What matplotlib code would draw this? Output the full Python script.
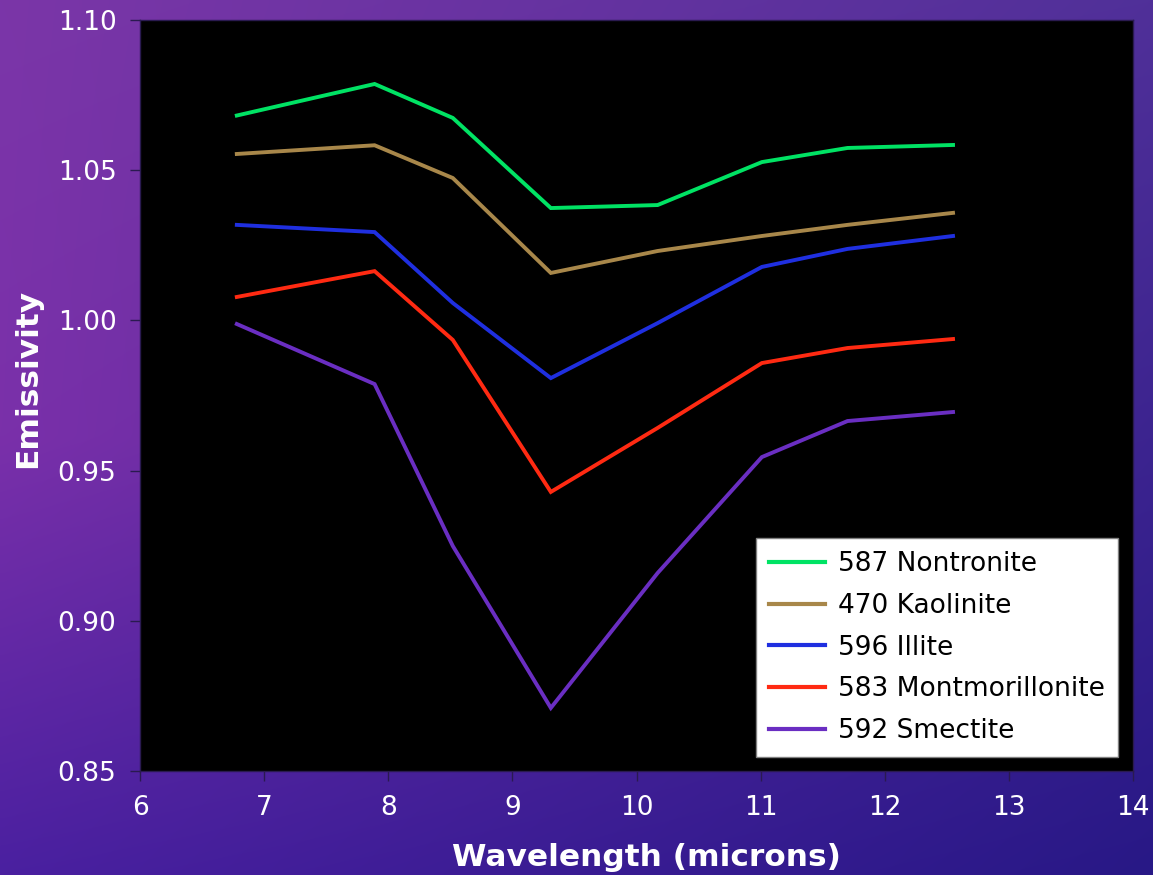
import numpy as np
import matplotlib
matplotlib.use("Agg")
import matplotlib.pyplot as plt
from matplotlib.colors import to_rgb

# band centres (microns)
wavelength = [6.78, 7.89, 8.52, 9.31, 10.17, 11.01, 11.70, 12.55]

nontronite = [1.0682, 1.0787, 1.0674, 1.0374, 1.0384, 1.0527, 1.0574, 1.0584]
kaolinite = [1.0554, 1.0583, 1.0474, 1.0158, 1.0231, 1.0281, 1.0318, 1.0358]
illite = [1.0318, 1.0294, 1.0058, 0.9808, 0.9991, 1.0178, 1.0238, 1.0281]
montmorillonite = [1.0078, 1.0164, 0.9935, 0.9429, 0.9642, 0.9858, 0.9908, 0.9938]
smectite = [0.9988, 0.9788, 0.9249, 0.8710, 0.9159, 0.9545, 0.9665, 0.9695]

series_labels = ["587 Nontronite", "470 Kaolinite", "596 Illite",
                 "583 Montmorillonite", "592 Smectite"]
series_colors = ["#00e364", "#a8874a", "#1f2fe0", "#ff2a12", "#6a2ec2"]

y_ticks = [0.85, 0.90, 0.95, 1.00, 1.05, 1.10]

W, H, DPI = 1153, 875, 100
fig = plt.figure(figsize=(W / DPI, H / DPI), dpi=DPI)

# purple gradient backdrop
bg = fig.add_axes([0, 0, 1, 1], zorder=-10)
bg.set_axis_off()
tl, tr = np.array(to_rgb("#7b36a8")), np.array(to_rgb("#503099"))
ml = np.array(to_rgb("#7a30aa"))
bl, br = np.array(to_rgb("#4a20a0")), np.array(to_rgb("#281886"))
ny, nx = 200, 260
u = np.linspace(0, 1, nx)[None, :, None]
v = np.linspace(0, 1, ny)[:, None, None]
left = np.where(v < 0.5, (1 - 2 * v) * tl + 2 * v * ml, (2 - 2 * v) * ml + (2 * v - 1) * bl)
right = (1 - v) * tr + v * br
img = (1 - u) * left + u * right
bg.imshow(np.clip(img, 0, 1), aspect="auto", extent=[0, 1, 0, 1], interpolation="bicubic")
bg.set_xlim(0, 1)
bg.set_ylim(0, 1)

ax = fig.add_axes([140 / W, 1 - 771 / H, (1133 - 140) / W, (771 - 20) / H])
ax.set_facecolor("black")

for vals, lab, col in zip([nontronite, kaolinite, illite, montmorillonite, smectite],
                          series_labels, series_colors):
    ax.plot(wavelength, vals, color=col, lw=2.8, label=lab, solid_joinstyle="miter")

ax.set_xlim(6, 14)
ax.set_ylim(0.85, 1.10)
ax.set_xticks(range(6, 15))
ax.set_yticks(y_ticks)
ax.set_yticklabels([f"{t:.2f}" for t in y_ticks])

for s in ax.spines.values():
    s.set_color("#2a1a50")
    s.set_linewidth(1.0)
ax.tick_params(axis="both", direction="out", length=7, width=1, color="#2a1a50",
               labelcolor="white", labelsize=19)
ax.tick_params(axis="x", pad=10)
ax.tick_params(axis="y", pad=10)

ax.set_xlabel("Wavelength (microns)", color="white", fontsize=22.5, fontweight="bold")
ax.set_ylabel("Emissivity", color="white", fontsize=22.5, fontweight="bold")
ax.xaxis.set_label_coords(0.51, -(858 - 771) / 751, transform=ax.transAxes)
ax.yaxis.set_label_coords(-(140 - 28) / 993, (771 - 378) / 751, transform=ax.transAxes)
ax.xaxis.label.set_va("center")
ax.yaxis.label.set_va("center")

leg = ax.legend(loc="lower right", bbox_to_anchor=(0.985, 0.018), fontsize=19,
                frameon=True, fancybox=False, handlelength=2.1, handletextpad=0.5,
                labelspacing=0.6, borderpad=0.5, borderaxespad=0)
leg.get_frame().set_facecolor("white")
leg.get_frame().set_edgecolor("#808080")
leg.get_frame().set_alpha(1)
for line in leg.get_lines():
    line.set_linewidth(3.0)

fig.savefig("out.png", dpi=DPI)
